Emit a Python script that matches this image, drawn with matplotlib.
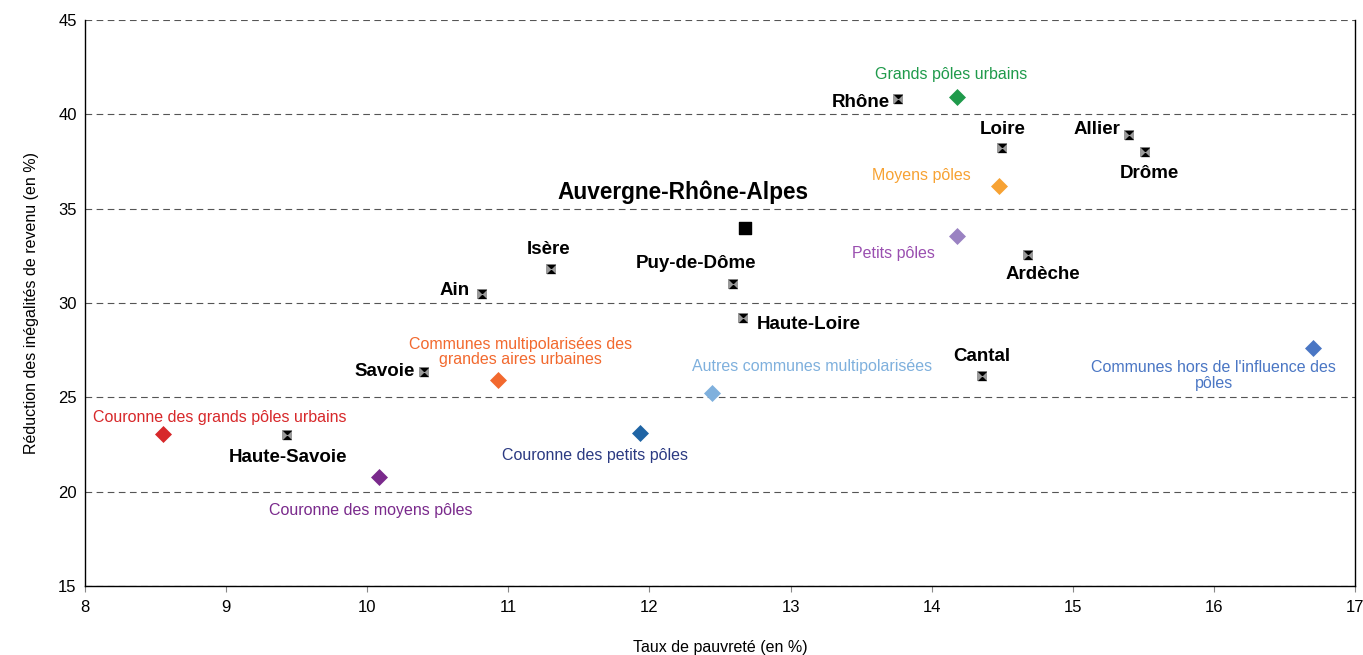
import matplotlib
matplotlib.use("Agg")
import matplotlib.pyplot as plt

plt.rcParams['font.family'] = ['Liberation Sans', 'DejaVu Sans']

# Départements
dep_noms = ["Rhône", "Loire", "Allier", "Drôme", "Ardèche", "Isère", "Puy-de-Dôme",
            "Ain", "Haute-Loire", "Savoie", "Cantal", "Haute-Savoie"]
dep_pauvrete = [13.76, 14.50, 15.40, 15.51, 14.68, 11.30, 12.59, 10.81, 12.66, 10.40, 14.36, 9.43]
dep_reduction = [40.8, 38.22, 38.9, 38.0, 32.55, 31.8, 31.0, 30.48, 29.2, 26.35, 26.13, 23.0]

# Région
region_nom = "Auvergne-Rhône-Alpes"
region_pauvrete = 12.68
region_reduction = 33.98

# Types d'espaces
zone_noms = ["Grands pôles urbains", "Moyens pôles", "Petits pôles",
             "Communes multipolarisées des\ngrandes aires urbaines",
             "Autres communes multipolarisées",
             "Communes hors de l'influence des\npôles",
             "Couronne des grands pôles urbains", "Couronne des petits pôles",
             "Couronne des moyens pôles"]
zone_pauvrete = [14.18, 14.48, 14.18, 10.93, 12.44, 16.70, 8.55, 11.93, 10.08]
zone_reduction = [40.92, 36.2, 33.55, 25.92, 25.23, 27.62, 23.06, 23.1, 20.78]

# styles
zone_couleurs = ["#1f9a4b", "#f7a233", "#9a82c2", "#f2692e", "#7fb0dd", "#4a76c4",
                 "#d7282a", "#1f64a4", "#7a2a8c"]
zone_couleurs_texte = ["#1f9a4b", "#f7a233", "#9a4fb0", "#f2692e", "#7fb0dd", "#4a76c4",
                       "#d7282a", "#2b3a82", "#7a2a8c"]
# (dx, dy, ha) in pixels
dep_offsets = [(-8, -3, 'right'), (0, 18, 'center'), (-9, 6, 'right'), (5, -21, 'center'),
               (15, -20, 'center'), (-2, 20, 'center'), (-37, 21, 'center'), (-12, 3, 'right'),
               (14, -6, 'left'), (-9, 0, 'right'), (-1, 20, 'center'), (1, -22, 'center')]
zone_offsets = [(-6, 22), (-78, 11), (-64, -17), (22, 28), (101, 27), (-99, -28),
                (57, 16), (-45, -22), (-8, -34)]

fig = plt.figure(figsize=(13.63, 6.55), dpi=100)
ax = fig.add_axes([0.0624, 0.1053, 0.9317, 0.8642])

ax.set_xlim(8, 17)
ax.set_ylim(15, 45)
ax.set_xticks(range(8, 18))
ax.set_yticks(range(15, 50, 5))
ax.yaxis.grid(True, linestyle=(0, (6, 4)), color='#555555', linewidth=0.8)
ax.set_axisbelow(True)
ax.spines['top'].set_visible(False)
for s in ['left', 'right', 'bottom']:
    ax.spines[s].set_linewidth(1.0)
ax.tick_params(axis='x', length=4, color='#888888', labelsize=12, pad=6)
ax.tick_params(axis='y', length=0, labelsize=12, pad=6)

hourglass = [(-1, 1), (1, 1), (-1, -1), (1, -1), (-1, 1)]
ax.scatter(dep_pauvrete, dep_reduction, marker='s', s=60, color='#9a9a9a', zorder=3, linewidths=0)
ax.scatter(dep_pauvrete, dep_reduction, marker=hourglass, s=45, color='black', zorder=4, linewidths=0)
for nom, x, y, (dx, dy, ha) in zip(dep_noms, dep_pauvrete, dep_reduction, dep_offsets):
    ax.annotate(nom, (x, y), xytext=(dx, dy), textcoords='offset pixels', ha=ha, va='center',
                fontsize=13.5, fontweight='bold', color='black', zorder=5)

ax.scatter([region_pauvrete], [region_reduction], marker='s', s=80, color='black', zorder=4)
ax.annotate(region_nom, (region_pauvrete, region_reduction), xytext=(-62, 36),
            textcoords='offset pixels', ha='center', va='center', fontsize=16.3,
            fontweight='bold', color='black')

for nom, x, y, c, ct, (dx, dy) in zip(zone_noms, zone_pauvrete, zone_reduction, zone_couleurs,
                                     zone_couleurs_texte, zone_offsets):
    ax.scatter([x], [y], marker='D', s=75, color=c, zorder=4, linewidths=0)
    ax.annotate(nom, (x, y), xytext=(dx, dy), textcoords='offset pixels', ha='center',
                va='center', multialignment='center', fontsize=11.5, color=ct,
                linespacing=1.08)

ax.set_xlabel("Taux de pauvreté (en %)", fontsize=11.5, labelpad=18)
ax.set_ylabel("Réduction des inégalités de revenu (en %)", fontsize=11.5, labelpad=14)

fig.savefig("out.png", dpi=100)
